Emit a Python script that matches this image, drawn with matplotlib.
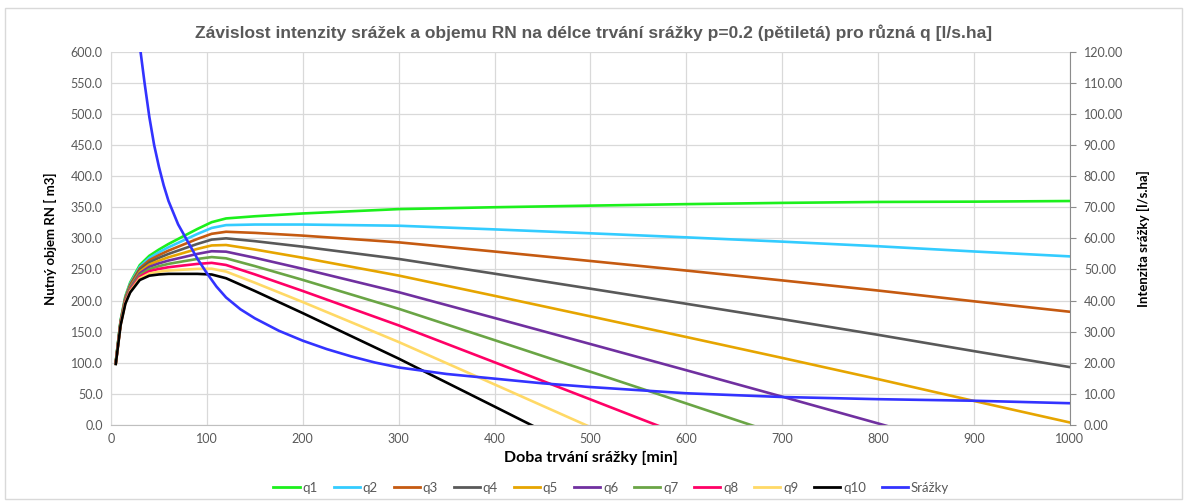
import matplotlib
matplotlib.use("Agg")
import matplotlib.pyplot as plt
from matplotlib.lines import Line2D
from matplotlib.patches import Rectangle
from matplotlib.ticker import FormatStrFormatter, MultipleLocator

# durations [min]
t = [5, 10, 15, 20, 30, 40, 50, 60, 75, 90, 105, 120, 150, 200,
     300, 400, 500, 600, 700, 800, 900, 1000]

# required retention volume [m3] for each q
q1 = [102.0, 168.0, 207.0, 229.0, 257.0, 272.0, 282.0, 291.0, 303.0, 315.0, 326.0,
      332.0, 335.5, 340.0, 347.0, 350.0, 352.6, 355.0, 357.0, 358.5, 359.0, 360.0]
q2 = [101.6, 167.1, 205.7, 227.2, 254.3, 268.4, 277.6, 285.7, 296.3, 307.0, 316.7,
      321.3, 322.2, 322.2, 320.3, 314.4, 308.1, 301.6, 294.7, 287.3, 278.9, 271.0]
q3 = [101.1, 166.2, 204.3, 225.4, 251.7, 264.9, 273.1, 280.3, 289.7, 299.0, 307.3,
      310.6, 308.8, 304.4, 293.6, 278.8, 263.6, 248.2, 232.4, 216.1, 198.8, 182.0]
q4 = [100.7, 165.3, 203.0, 223.7, 249.0, 261.3, 268.7, 275.0, 283.0, 291.0, 298.0,
      300.0, 295.5, 286.6, 266.9, 243.2, 219.1, 194.8, 170.1, 144.9, 118.7, 93.0]
q5 = [100.2, 164.4, 201.7, 221.9, 246.3, 257.8, 264.2, 269.6, 276.3, 283.0, 288.6,
      289.3, 282.1, 268.8, 240.2, 207.6, 174.6, 141.4, 107.8, 73.7, 38.6, 4.0]
q6 = [99.8, 163.6, 200.3, 220.1, 243.7, 254.2, 259.8, 264.3, 269.6, 275.0, 279.3,
      278.6, 268.8, 251.0, 213.5, 172.0, 130.1, 88.0, 45.5, 2.5, -41.5, -85.0]
q7 = [99.3, 162.7, 199.0, 218.3, 241.0, 250.6, 255.3, 259.0, 263.0, 266.9, 269.9,
      267.9, 255.4, 233.2, 186.8, 136.4, 85.6, 34.6, -16.8, -68.7, -121.6, -174.0]
q8 = [98.9, 161.8, 197.7, 216.5, 238.3, 247.1, 250.9, 253.6, 256.3, 258.9, 260.6,
      257.2, 242.1, 215.4, 160.1, 100.8, 41.1, -18.8, -79.1, -139.9, -201.7, -263.0]
q9 = [98.4, 160.9, 196.3, 214.8, 235.6, 243.5, 246.4, 248.3, 249.6, 250.9, 251.2,
      246.6, 228.7, 197.6, 133.4, 65.2, -3.4, -72.2, -141.4, -211.1, -281.8, -352.0]
q10 = [98.0, 160.0, 195.0, 213.0, 233.0, 240.0, 242.0, 242.9, 242.9, 242.9, 241.9,
       235.9, 215.4, 179.8, 106.7, 29.6, -47.9, -125.6, -203.7, -282.3, -361.9, -441.0]

# rain intensity [l/s.ha]
t_rain = [5, 10, 15, 20, 25, 30, 35, 40, 45, 50, 55, 60, 70, 80, 90, 100, 110,
          120, 135, 150, 175, 200, 225, 250, 275, 300, 350, 400, 450, 500,
          600, 700, 800, 900, 1000]
rain = [290.0, 225.0, 190.0, 160.0, 139.0, 122.0, 110.0, 99.0, 90.0, 83.0, 77.0,
        72.0, 64.5, 59.0, 53.5, 48.8, 44.5, 41.0, 37.2, 34.3, 30.3, 27.1, 24.4,
        22.1, 20.1, 18.5, 16.4, 14.9, 13.4, 12.2, 10.2, 9.0, 8.3, 7.8, 7.0]

series = [q1, q2, q3, q4, q5, q6, q7, q8, q9, q10]
names = ["q1", "q2", "q3", "q4", "q5", "q6", "q7", "q8", "q9", "q10"]
colors = ["#1CF01C", "#33CCFF", "#C55A11", "#595959", "#E6A500",
          "#7030A0", "#6AA545", "#FF0066", "#FFD966", "#000000"]
rain_color = "#3333FF"

FONT = ["Lato", "DejaVu Sans"]
plt.rcParams["font.family"] = FONT
GRAY = "#595959"

fig = plt.figure(figsize=(11.87, 5.01), dpi=100)
ax = fig.add_axes([0.0935, 0.1517, 0.9014 - 0.0935, 0.8968 - 0.1517])
ax2 = ax.twinx()

for vals, name, col in zip(series, names, colors):
    ax.plot(t, vals, color=col, lw=1.9, label=name, solid_joinstyle="round")
ax2.plot(t_rain, rain, color=rain_color, lw=1.9, label="Srážky", solid_joinstyle="round")

ax.set_xlim(0, 1000)
ax.set_ylim(0, 600)
ax2.set_ylim(0, 120)
ax.xaxis.set_major_locator(MultipleLocator(100))
ax.yaxis.set_major_locator(MultipleLocator(50))
ax2.yaxis.set_major_locator(MultipleLocator(10))
ax.yaxis.set_major_formatter(FormatStrFormatter("%.1f"))
ax2.yaxis.set_major_formatter(FormatStrFormatter("%.2f"))

ax.grid(True, color="#d9d9d9", lw=0.9)
ax.set_axisbelow(True)
for sp in ["top", "right"]:
    ax.spines[sp].set_visible(False)
for sp in ["top", "left", "bottom"]:
    ax2.spines[sp].set_visible(False)
ax.spines["left"].set_color("#d9d9d9")
ax.spines["bottom"].set_color("#bfbfbf")
ax2.spines["right"].set_color("#8c8c8c")

ax.tick_params(axis="both", length=0, labelsize=9, labelcolor=GRAY, pad=6)
ax2.tick_params(axis="y", length=4, color="#8c8c8c", labelsize=9, labelcolor=GRAY, pad=6)

ax.set_xlabel("Doba trvání srážky [min]", fontsize=11.5, fontweight="bold", labelpad=4)
ax.set_ylabel("Nutný objem RN [ m3]", fontsize=9.5, fontweight="bold", labelpad=10)
ax2.set_ylabel("Intenzita srážky [l/s.ha]", fontsize=9.5, fontweight="bold",
               rotation=90, labelpad=10)

fig.text(0.5, 0.935, "Závislost intenzity srážek a objemu RN na délce trvání srážky "
         "p=0.2 (pětiletá) pro různá q [l/s.ha]",
         ha="center", va="center", fontsize=12.5, fontweight="bold", color=GRAY,
         family=["Liberation Sans", "DejaVu Sans"])

handles = [Line2D([], [], color=c, lw=2) for c in colors] + \
          [Line2D([], [], color=rain_color, lw=2)]
fig.legend(handles, names + ["Srážky"], loc="center", bbox_to_anchor=(0.515, 0.026),
           ncol=11, frameon=False, fontsize=9.5, handlelength=2.0,
           handletextpad=0.2, columnspacing=1.2, labelcolor=GRAY)

fig.patches.append(Rectangle((0.004, 0.004), 0.992, 0.98, transform=fig.transFigure,
                             fill=False, edgecolor="#d9d9d9", lw=1))

fig.savefig("out.png", dpi=100)
